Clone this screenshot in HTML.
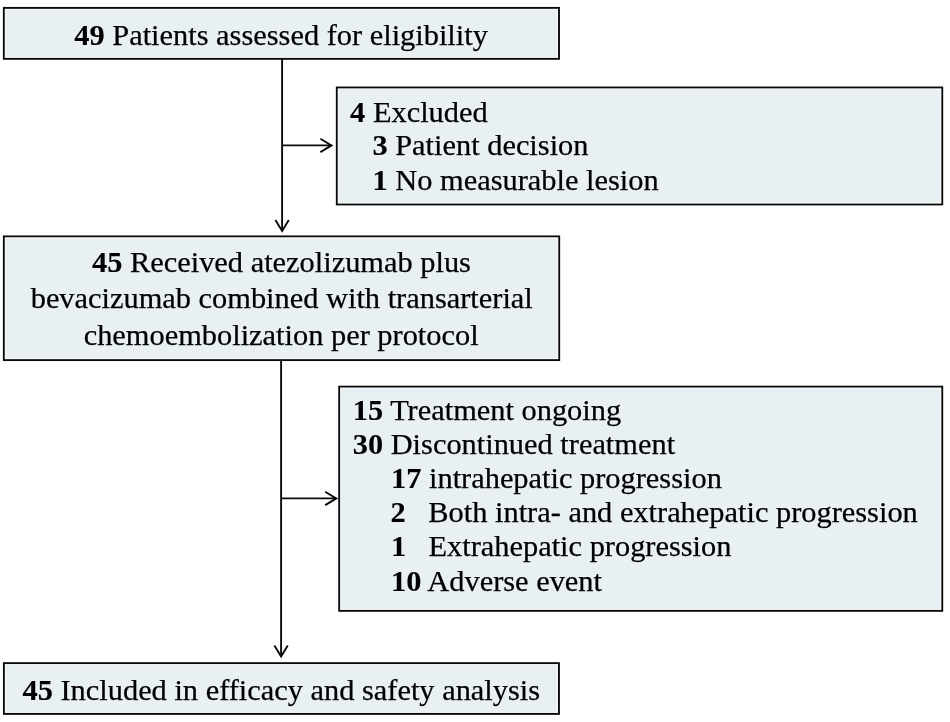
<!DOCTYPE html>
<html lang="en">
<head>
<meta charset="utf-8">
<title>Patient flow diagram</title>
<style>
  html, body { margin: 0; padding: 0; background: #ffffff; }
  body { width: 950px; height: 722px; position: relative; overflow: hidden;
         font-family: "Liberation Serif", "Times New Roman", serif; color: #000000; }
  .t { position: absolute; white-space: pre; -webkit-text-stroke: 0.25px #000000; font-size: 30.4px; line-height: 34px; height: 34px; margin: 0; }
  .t b { font-weight: bold; -webkit-text-stroke: 0.12px #000000; }
  svg.arrows { position: absolute; left: 0; top: 0; width: 950px; height: 722px; }
</style>
</head>
<body>

<!-- connectors -->
<svg class="arrows" viewBox="0 0 950 722" fill="none" stroke="#0a0a0a" stroke-width="1.9" stroke-linecap="butt" stroke-linejoin="miter">
  <!-- boxes -->
  <rect id="b1" x="3.85" y="7.9" width="555.15" height="50.95" fill="#e9f0f4" stroke="#0a0a0a" stroke-width="1.9"/>
  <rect x="5.35" y="9.4" width="552.15" height="47.95" fill="none" stroke="#ffffff" stroke-opacity="0.55" stroke-width="1"/>
  <rect id="b2" x="336.8" y="87.5" width="605.45" height="116.95" fill="#e9f0f4" stroke="#0a0a0a" stroke-width="1.9"/>
  <rect x="338.3" y="89.0" width="602.45" height="113.95" fill="none" stroke="#ffffff" stroke-opacity="0.55" stroke-width="1"/>
  <rect id="b3" x="3.85" y="236.4" width="555.35" height="123.7" fill="#e9f0f4" stroke="#0a0a0a" stroke-width="1.9"/>
  <rect x="5.35" y="237.9" width="552.35" height="120.7" fill="none" stroke="#ffffff" stroke-opacity="0.55" stroke-width="1"/>
  <rect id="b4" x="339.2" y="386.65" width="603.05" height="224.2" fill="#e9f0f4" stroke="#0a0a0a" stroke-width="1.9"/>
  <rect x="340.7" y="388.15" width="600.05" height="221.2" fill="none" stroke="#ffffff" stroke-opacity="0.55" stroke-width="1"/>
  <rect id="b5" x="3.9" y="663.15" width="555.05" height="50.75" fill="#e9f0f4" stroke="#0a0a0a" stroke-width="1.9"/>
  <rect x="5.4" y="664.65" width="552.05" height="47.75" fill="none" stroke="#ffffff" stroke-opacity="0.55" stroke-width="1"/>
  <!-- box1 -> box3 -->
  <path d="M282.1 59 V231"/>
  <path d="M275.4 219.9 L282.1 231 L288.8 219.9"/>
  <!-- branch to box2 -->
  <path d="M282.1 145.4 H331.5"/>
  <path d="M320.4 138.7 L331.5 145.4 L320.4 152.1"/>
  <!-- box3 -> box5 -->
  <path d="M281.1 360.5 V656.5"/>
  <path d="M274.4 645.4 L281.1 656.5 L287.8 645.4"/>
  <!-- branch to box4 -->
  <path d="M281.1 498.4 H336.3"/>
  <path d="M325.2 491.7 L336.3 498.4 L325.2 505.1"/>
</svg>

<!-- box 1 text -->
<div class="t" style="left:74.3px; top:17.7px;"><b>49</b> Patients assessed for eligibility</div>

<!-- box 2 text -->
<div class="t" style="left:350.1px; top:94.7px;"><b>4</b> Excluded</div>
<div class="t" style="left:372.4px; top:128.1px;"><b>3</b> Patient decision</div>
<div class="t" style="left:372.5px; top:162.6px;"><b>1</b> No measurable lesion</div>

<!-- box 3 text -->
<div class="t" style="left:92px;   top:244.8px;"><b>45</b> Received atezolizumab plus</div>
<div class="t" style="left:30.7px; top:281.2px;">bevacizumab combined with transarterial</div>
<div class="t" style="left:83.7px; top:317.6px;">chemoembolization per protocol</div>

<!-- box 4 text -->
<div class="t" style="left:352.7px; top:392.7px;"><b>15</b> Treatment ongoing</div>
<div class="t" style="left:352.7px; top:426.6px;"><b>30</b> Discontinued treatment</div>
<div class="t" style="left:391px;   top:461px;"><b>17</b> intrahepatic progression</div>
<div class="t" style="left:390.6px; top:495.2px;"><b>2</b></div>
<div class="t" style="left:428.3px; top:495.2px;">Both intra- and extrahepatic progression</div>
<div class="t" style="left:391px;   top:529.4px;"><b>1</b></div>
<div class="t" style="left:428.5px; top:529.4px;">Extrahepatic progression</div>
<div class="t" style="left:391px;   top:563.8px;"><b>10</b> Adverse event</div>

<!-- box 5 text -->
<div class="t" style="left:22.5px; top:672.7px;"><b>45</b> Included in efficacy and safety analysis</div>

</body>
</html>
